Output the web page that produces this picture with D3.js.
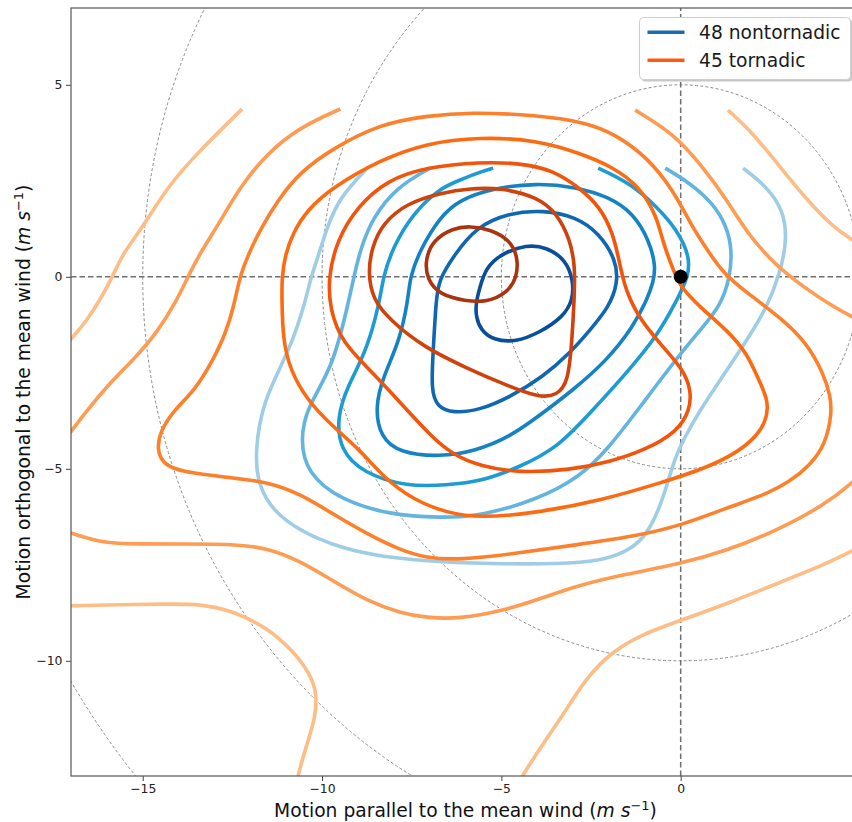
<!DOCTYPE html>
<html>
<head>
<meta charset="utf-8">
<script src="https://cdn.jsdelivr.net/npm/d3@7"></script>
<style>
  body { margin: 0; background: #fff; }
  svg { display: block; font-family: "DejaVu Sans", sans-serif; }
</style>
</head>
<body>
<svg id="chart" width="852" height="822"></svg>
<script>
// ---- axes ----
const xDomain = [-17, 5];
const yDomain = [-13, 7];
const xTicks = [-15, -10, -5, 0];
const yTicks = [-10, -5, 0, 5];
const ringRadii = [5, 10, 15, 20];
const stormMotion = [0, 0];
const legendLabels = ["48 nontornadic", "45 tornadic"];

// ---- nontornadic density contours (innermost level first) ----
const nonTor1 = [[-5.62,-0.34],[-5.43,0.26],[-4.95,0.62],[-4.31,0.83],[-3.75,0.78],[-3.20,0.44],[-3.00,-0.08],[-3.00,-0.60],[-3.28,-1.05],[-3.95,-1.46],[-4.59,-1.70],[-5.23,-1.65],[-5.57,-1.39],[-5.71,-1.05],[-5.71,-0.68]];
const nonTor2 = [[-6.82,-0.60],[-6.74,-0.08],[-6.35,0.52],[-5.71,1.30],[-4.79,1.66],[-3.84,1.74],[-2.92,1.56],[-2.28,1.14],[-1.80,0.44],[-1.75,-0.16],[-2.00,-0.79],[-2.53,-1.39],[-3.08,-1.98],[-3.84,-2.61],[-4.76,-3.13],[-5.59,-3.47],[-6.35,-3.55],[-6.79,-3.39],[-6.96,-2.95],[-6.90,-1.90]];
const nonTor3 = [[-7.60,-0.60],[-7.55,-0.01],[-7.27,0.70],[-6.71,1.56],[-6.18,2.00],[-5.23,2.31],[-4.03,2.44],[-2.92,2.34],[-2.00,2.08],[-1.33,1.66],[-0.88,0.96],[-0.69,0.26],[-0.77,-0.16],[-0.94,-0.60],[-1.33,-1.31],[-2.05,-2.17],[-3.00,-2.95],[-3.92,-3.60],[-4.76,-4.17],[-5.73,-4.54],[-6.71,-4.69],[-7.83,-4.59],[-8.38,-4.17],[-8.52,-3.39],[-8.30,-2.61],[-7.83,-1.65]];
const nonTor4 = [[-5.23,2.83],[-5.59,2.73],[-6.15,2.52],[-6.71,2.31],[-7.46,1.66],[-8.02,0.78],[-8.30,-0.01],[-8.38,-0.60],[-8.74,-1.90],[-9.30,-2.87],[-9.58,-3.65],[-9.50,-4.51],[-8.86,-5.11],[-7.63,-5.47],[-6.51,-5.42],[-5.59,-5.34],[-4.48,-4.95],[-3.45,-4.46],[-2.53,-3.55],[-1.61,-2.61],[-0.66,-1.56],[-0.10,-0.60],[0.21,-0.01],[0.26,0.52],[-0.10,1.22],[-0.66,1.82],[-1.41,2.44],[-2.30,2.83]];
const nonTor5 = [[-6.99,2.83],[-7.91,2.34],[-8.58,1.56],[-8.94,0.70],[-9.11,-0.01],[-9.25,-0.60],[-9.69,-2.35],[-10.42,-3.39],[-10.61,-4.25],[-10.42,-5.11],[-9.50,-5.81],[-8.10,-6.20],[-6.71,-6.28],[-5.59,-6.23],[-4.01,-5.81],[-2.81,-5.21],[-2.05,-4.51],[-1.13,-3.39],[-0.21,-2.24],[0.54,-1.39],[1.10,-0.78],[1.38,-0.01],[1.43,0.70],[1.29,1.30],[0.90,1.92],[0.26,2.44],[-0.43,2.83]];
const nonTor6 = [[-8.74,2.83],[-9.50,2.08],[-9.86,1.30],[-10.11,0.52],[-10.31,-0.01],[-10.45,-0.60],[-10.89,-1.90],[-11.65,-3.21],[-11.87,-4.56],[-11.79,-5.40],[-11.37,-6.10],[-10.61,-6.62],[-9.69,-6.99],[-8.66,-7.24],[-7.27,-7.40],[-5.23,-7.48],[-3.36,-7.48],[-2.25,-7.40],[-1.55,-7.17],[-1.05,-6.85],[-0.66,-6.20],[-0.38,-5.42],[-0.16,-4.72],[0.07,-4.25],[0.54,-3.47],[1.10,-2.69],[1.85,-1.65],[2.41,-0.79],[2.77,0.10],[2.97,0.96],[2.86,1.74],[2.41,2.34],[1.74,2.83]];

// ---- tornadic density contours (innermost level first) ----
const tor1 = [[-5.87,1.32],[-5.32,1.24],[-4.76,0.96],[-4.54,0.52],[-4.56,-0.01],[-4.84,-0.42],[-5.40,-0.66],[-6.01,-0.63],[-6.71,-0.47],[-7.07,-0.08],[-7.13,0.44],[-6.90,0.96],[-6.35,1.27]];
const tor2 = [[-5.87,2.31],[-4.96,2.31],[-4.01,2.08],[-3.45,1.66],[-3.08,0.96],[-2.94,0.26],[-2.97,-0.60],[-3.03,-1.65],[-3.14,-2.76],[-3.45,-3.08],[-3.92,-3.16],[-4.95,-2.79],[-5.87,-2.42],[-7.18,-1.83],[-8.10,-1.13],[-8.58,-0.60],[-8.72,0.10],[-8.61,0.78],[-8.30,1.40],[-7.63,1.92],[-6.71,2.18]];
const tor3 = [[-5.59,2.99],[-7.07,2.86],[-8.19,2.52],[-9.02,1.82],[-9.58,0.96],[-9.83,-0.01],[-9.78,-0.86],[-9.44,-1.72],[-8.58,-2.50],[-7.63,-3.47],[-6.99,-4.12],[-6.35,-4.64],[-5.59,-4.93],[-4.48,-5.11],[-3.08,-5.03],[-1.97,-4.82],[-0.99,-4.51],[-0.10,-4.04],[0.26,-3.47],[0.29,-2.95],[0.07,-2.42],[-0.49,-1.83],[-1.13,-1.13],[-1.55,-0.34],[-1.72,0.44],[-1.89,1.14],[-2.25,1.82],[-2.81,2.31],[-3.56,2.78],[-4.48,2.96]];
const tor4 = [[-5.59,3.64],[-7.10,3.48],[-8.38,3.04],[-9.69,2.34],[-10.42,1.74],[-10.81,1.14],[-11.03,0.57],[-11.12,-0.01],[-11.12,-0.60],[-11.09,-1.65],[-10.89,-2.42],[-10.42,-3.21],[-9.69,-3.91],[-8.94,-4.51],[-8.30,-5.21],[-7.46,-5.81],[-6.51,-6.15],[-5.59,-6.28],[-4.01,-6.15],[-2.16,-5.81],[-0.57,-5.37],[0.82,-4.95],[1.85,-4.43],[2.41,-3.80],[2.44,-3.21],[2.21,-2.76],[1.85,-1.98],[1.29,-1.39],[0.54,-0.79],[-0.02,-0.26],[-0.24,0.26],[-0.49,0.88],[-0.66,1.56],[-1.13,2.34],[-1.89,2.86],[-2.81,3.22],[-4.01,3.56]];
const tor5 = [[-5.87,4.29],[-7.10,4.19],[-8.38,3.98],[-9.69,3.35],[-10.61,2.73],[-11.23,2.00],[-11.73,1.22],[-12.06,0.57],[-12.29,0.02],[-12.45,-0.73],[-12.68,-1.46],[-13.04,-2.17],[-13.54,-2.95],[-14.15,-3.49],[-14.52,-4.04],[-14.60,-4.51],[-14.43,-4.87],[-13.96,-5.08],[-12.48,-5.24],[-11.53,-5.34],[-10.61,-5.65],[-9.69,-6.18],[-8.74,-6.70],[-7.83,-7.11],[-7.10,-7.32],[-6.18,-7.38],[-4.48,-7.19],[-2.92,-6.98],[-1.41,-6.78],[-0.02,-6.49],[1.27,-6.02],[2.21,-5.73],[3.05,-5.34],[3.61,-4.90],[4.03,-4.38],[4.22,-3.55],[4.17,-3.08],[3.97,-2.50],[3.52,-1.72],[2.77,-1.05],[1.85,-0.42],[1.18,0.10],[0.74,0.70],[0.26,1.40],[-0.21,2.26],[-0.94,3.12],[-1.83,3.72],[-2.67,4.03],[-4.01,4.21]];
const tor6West = [[-9.49,4.37],[-10.61,3.90],[-11.53,3.22],[-12.29,2.34],[-12.93,1.30],[-13.40,0.62],[-13.73,0.02],[-14.04,-0.60],[-14.60,-1.46],[-15.27,-2.17],[-15.91,-2.76],[-16.55,-3.47],[-16.99,-4.02],[-17.30,-4.40]];
const tor6South = [[-17.30,-6.62],[-16.97,-6.67],[-16.19,-6.93],[-15.07,-6.96],[-13.87,-6.96],[-12.48,-6.96],[-11.53,-7.06],[-10.61,-7.40],[-9.69,-7.92],[-8.74,-8.44],[-7.83,-8.75],[-7.10,-8.88],[-6.18,-8.91],[-4.95,-8.70],[-3.84,-8.36],[-2.92,-8.05],[-1.52,-7.74],[-0.04,-7.48],[1.27,-7.14],[2.66,-6.62],[4.05,-5.92],[4.78,-5.37],[5.28,-4.93]];
const tor6East = [[-1.27,4.34],[-0.21,3.74],[0.62,2.86],[1.29,2.00],[1.85,1.14],[2.58,0.36],[3.41,-0.26],[4.25,-0.78],[4.78,-1.04],[5.28,-1.28]];
const tor7NW = [[-12.23,4.37],[-13.40,3.30],[-14.32,2.34],[-14.99,1.30],[-15.55,0.62],[-15.83,0.02],[-16.19,-0.60],[-16.55,-1.13],[-16.97,-1.59],[-17.31,-1.95]];
const tor7SW = [[-17.31,-8.57],[-16.97,-8.57],[-16.19,-8.55],[-14.32,-8.52],[-13.40,-8.52],[-12.48,-8.70],[-11.53,-9.14],[-10.81,-9.74],[-10.33,-10.34],[-10.14,-10.86],[-10.19,-11.49],[-10.42,-12.16],[-10.67,-12.97],[-10.75,-13.36]];
const tor7SE = [[-4.62,-13.36],[-4.40,-12.97],[-3.84,-12.16],[-3.20,-11.30],[-2.64,-10.45],[-1.89,-9.74],[-1.05,-9.30],[-0.04,-8.96],[1.27,-8.52],[2.66,-8.00],[4.05,-7.48],[4.78,-7.14],[5.28,-6.91]];
const tor7NE = [[1.32,4.34],[2.02,3.74],[2.77,2.86],[3.52,2.00],[4.25,1.30],[4.78,0.96],[5.28,0.67]];

// level groupings: [points, closed]
const nonTorLevels = [[nonTor1, true], [nonTor2, true], [nonTor3, true], [nonTor4, false], [nonTor5, false], [nonTor6, false]];
const torLevels = [[tor1, true], [tor2, true], [tor3, true], [tor4, true], [tor5, true],
                   [tor6West, false], [tor6South, false], [tor6East, false],
                   [tor7NW, false], [tor7SW, false], [tor7SE, false], [tor7NE, false]];
const torLevelIndex = [0, 1, 2, 3, 4, 5, 5, 5, 6, 6, 6, 6];

// ---- styling ----
const blueColors = ["#084e9a", "#0f67b1", "#1583c3", "#1e9bd3", "#63b4de", "#a0cde6"];
const orangeColors = ["#a93410", "#d0420b", "#f2540b", "#fc6a12", "#fd802c", "#fd9c52", "#fdbd86"];
const legendColors = ["#1a6cb0", "#fc5a0e"];

const plot = { left: 71, right: 860, top: 8, bottom: 776 };

const svg = d3.select("#chart");
const x = d3.scaleLinear().domain(xDomain).range([plot.left, plot.right]);
const y = d3.scaleLinear().domain(yDomain).range([plot.bottom, plot.top]);
const fmt = v => (v < 0 ? "\u2212" + Math.abs(v) : String(v));

svg.append("defs").append("clipPath").attr("id", "plotClip")
  .append("rect")
  .attr("x", plot.left).attr("y", plot.top)
  .attr("width", plot.right - plot.left).attr("height", plot.bottom - plot.top);

const body = svg.append("g").attr("clip-path", "url(#plotClip)");

// range rings around the mean wind
body.selectAll("ellipse.ring").data(ringRadii).join("ellipse")
  .attr("class", "ring")
  .attr("cx", x(0)).attr("cy", y(0))
  .attr("rx", r => x(r) - x(0)).attr("ry", r => y(0) - y(r))
  .attr("fill", "none").attr("stroke", "#7f7f7f")
  .attr("stroke-width", 0.9).attr("stroke-dasharray", "3,2.2");

// crosshair through the mean wind
body.append("line")
  .attr("x1", x(xDomain[0])).attr("x2", x(xDomain[1]))
  .attr("y1", y(0)).attr("y2", y(0))
  .attr("stroke", "#6f6f6f").attr("stroke-width", 1.5).attr("stroke-dasharray", "5.5,3");
body.append("line")
  .attr("x1", x(0)).attr("x2", x(0))
  .attr("y1", y(yDomain[0])).attr("y2", y(yDomain[1]))
  .attr("stroke", "#6f6f6f").attr("stroke-width", 1.5).attr("stroke-dasharray", "5.5,3");

// smooth B-spline through the traced contour vertices
const lineOpen = d3.line().x(d => x(d[0])).y(d => y(d[1])).curve(d3.curveBasis);
const lineClosed = d3.line().x(d => x(d[0])).y(d => y(d[1])).curve(d3.curveBasisClosed);

// nontornadic contours, outermost drawn first
body.append("g").selectAll("path")
  .data(nonTorLevels.map((lv, i) => ({ pts: lv[0], closed: lv[1], color: blueColors[i] })).reverse())
  .join("path")
  .attr("d", d => (d.closed ? lineClosed : lineOpen)(d.pts))
  .attr("fill", "none").attr("stroke", d => d.color)
  .attr("stroke-width", 3.6).attr("stroke-linejoin", "round");

// tornadic contours
body.append("g").selectAll("path")
  .data(torLevels.map((lv, i) => ({ pts: lv[0], closed: lv[1], color: orangeColors[torLevelIndex[i]] })).reverse())
  .join("path")
  .attr("d", d => (d.closed ? lineClosed : lineOpen)(d.pts))
  .attr("fill", "none").attr("stroke", d => d.color)
  .attr("stroke-width", 3.6).attr("stroke-linejoin", "round");

// storm-relative origin
body.append("circle")
  .attr("cx", x(stormMotion[0])).attr("cy", y(stormMotion[1]))
  .attr("r", 7).attr("fill", "#000");

// ---- axes ----
const xAxis = svg.append("g").attr("transform", `translate(0,${plot.bottom})`)
  .call(d3.axisBottom(x).tickValues(xTicks).tickFormat(fmt).tickSize(5).tickPadding(3.5));
const yAxis = svg.append("g").attr("transform", `translate(${plot.left},0)`)
  .call(d3.axisLeft(y).tickValues(yTicks).tickFormat(fmt).tickSize(5).tickPadding(3.5));
[xAxis, yAxis].forEach(a => {
  a.select(".domain").remove();
  a.selectAll(".tick line").attr("stroke", "#444").attr("stroke-width", 1);
  a.selectAll(".tick text").attr("fill", "#222").style("font-size", "12.4px")
    .style("font-family", '"DejaVu Sans", sans-serif');
});

// frame
svg.append("rect")
  .attr("x", plot.left).attr("y", plot.top)
  .attr("width", plot.right - plot.left).attr("height", plot.bottom - plot.top)
  .attr("fill", "none").attr("stroke", "#555").attr("stroke-width", 1.2);

// axis titles
function unitTitle(sel, lead) {
  sel.append("tspan").text(lead + " (");
  sel.append("tspan").attr("font-style", "italic").text("m s");
  sel.append("tspan").attr("dy", -7).style("font-size", "13px").text("\u22121");
  sel.append("tspan").attr("dy", 7).text(")");
}
const xTitle = svg.append("text")
  .attr("x", (plot.left + plot.right) / 2).attr("y", 817)
  .attr("text-anchor", "middle").attr("fill", "#111").style("font-size", "18.7px");
unitTitle(xTitle, "Motion parallel to the mean wind");

const yTitle = svg.append("text")
  .attr("transform", `translate(29.5,${(plot.top + plot.bottom) / 2}) rotate(-90)`)
  .attr("text-anchor", "middle").attr("fill", "#111").style("font-size", "18.7px");
unitTitle(yTitle, "Motion orthogonal to the mean wind");

// ---- legend ----
const lg = svg.append("g").attr("transform", "translate(639.5,17.5)");
lg.append("rect").attr("x", 2).attr("y", 2).attr("width", 211).attr("height", 62).attr("rx", 4)
  .attr("fill", "#000").attr("opacity", 0.22);
lg.append("rect").attr("width", 211).attr("height", 62).attr("rx", 4)
  .attr("fill", "#fff").attr("stroke", "#cfcfcf").attr("stroke-width", 1);
legendLabels.forEach((lab, i) => {
  const cy = 14.8 + i * 28;
  lg.append("line").attr("x1", 8).attr("x2", 45).attr("y1", cy).attr("y2", cy)
    .attr("stroke", legendColors[i]).attr("stroke-width", 3.6);
  lg.append("text").attr("x", 59.5).attr("y", cy + 7).attr("fill", "#1a1a1a")
    .style("font-size", "18.7px").text(lab);
});
</script>
</body>
</html>
